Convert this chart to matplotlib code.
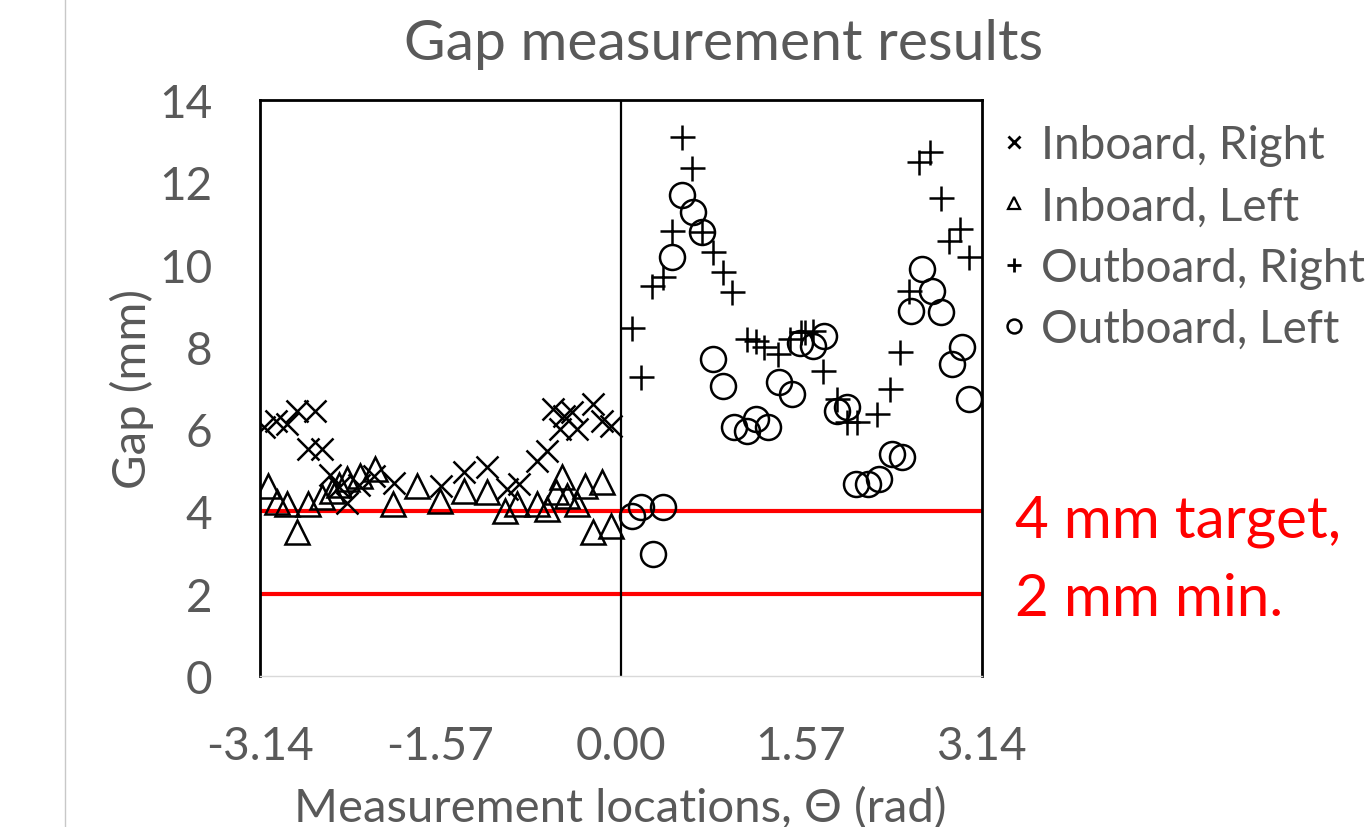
import matplotlib.pyplot as plt
from matplotlib.lines import Line2D

# gap data, theta in rad, gap in mm
in_right_theta = [-3.10, -3.00, -2.90, -2.82, -2.66, -2.72, -2.60, -2.53, -2.45, -2.38,
                  -2.28, -2.15, -1.97, -1.56, -1.36, -1.16, -0.99, -0.88, -0.73, -0.64,
                  -0.59, -0.53, -0.49, -0.42, -0.38, -0.24, -0.16, -0.08]
in_right_gap = [6.05, 6.20, 6.13, 6.44, 6.44, 5.52, 5.52, 4.88, 4.60, 4.20,
                4.65, 4.85, 4.70, 4.62, 4.96, 5.08, 4.55, 4.67, 5.23, 5.47,
                6.49, 6.00, 6.32, 6.42, 6.00, 6.61, 6.20, 6.08]

in_left_theta = [-3.07, -2.99, -2.90, -2.82, -2.72, -2.60, -2.51, -2.45, -2.38, -2.27,
                 -2.14, -1.98, -1.77, -1.57, -1.36, -1.16, -1.01, -0.90, -0.73, -0.64,
                 -0.56, -0.51, -0.47, -0.38, -0.31, -0.24, -0.16, -0.08]
in_left_gap = [4.62, 4.23, 4.18, 3.50, 4.18, 4.35, 4.50, 4.65, 4.79, 4.86,
               5.03, 4.18, 4.62, 4.25, 4.50, 4.47, 4.00, 4.18, 4.18, 4.06,
               4.47, 4.84, 4.38, 4.18, 4.62, 3.50, 4.72, 3.65]

out_right_theta = [0.10, 0.18, 0.27, 0.37, 0.45, 0.53, 0.62, 0.71, 0.80, 0.89,
                   0.97, 1.10, 1.18, 1.25, 1.37, 1.47, 1.57, 1.60, 1.67, 1.76,
                   1.88, 1.97, 2.06, 2.23, 2.34, 2.43, 2.51, 2.60, 2.69, 2.79,
                   2.86, 2.95, 3.03]
out_right_gap = [8.46, 7.27, 9.48, 9.70, 10.82, 13.10, 12.35, 10.79, 10.30, 9.82,
                 9.33, 8.19, 8.14, 8.00, 7.83, 8.19, 8.36, 8.36, 8.39, 7.41,
                 6.73, 6.17, 6.17, 6.37, 6.98, 7.88, 9.36, 12.49, 12.74, 11.62,
                 10.57, 10.87, 10.18]

out_left_theta = [0.10, 0.18, 0.28, 0.37, 0.45, 0.53, 0.63, 0.71, 0.80, 0.89,
                  0.99, 1.10, 1.18, 1.28, 1.38, 1.49, 1.56, 1.67, 1.77, 1.88,
                  1.97, 2.05, 2.15, 2.25, 2.36, 2.45, 2.53, 2.62, 2.71, 2.79,
                  2.88, 2.97, 3.03]
out_left_gap = [3.89, 4.10, 2.97, 4.10, 10.18, 11.70, 11.27, 10.79, 7.71, 7.05,
                6.05, 5.96, 6.25, 6.05, 7.15, 6.86, 8.10, 8.02, 8.26, 6.44,
                6.54, 4.67, 4.67, 4.79, 5.40, 5.32, 8.87, 9.89, 9.36, 8.85,
                7.58, 8.00, 6.73]

target_gap = 4
min_gap = 2
xticks = [-3.14, -1.57, 0.00, 1.57, 3.14]

grey = '#595959'
plt.rcParams['font.family'] = ['Lato', 'DejaVu Sans']

fig = plt.figure(figsize=(13.67, 8.28), dpi=100)
ax = fig.add_axes([0.190, 0.1824, 0.528, 0.6956])

ax.axhline(target_gap, color='red', lw=3, zorder=1)
ax.axhline(min_gap, color='red', lw=3, zorder=1)
ax.axvline(0, color='black', lw=1.6, zorder=1)

ms = 17
mew = 1.8
ax.plot(in_right_theta, in_right_gap, ls='none', marker='x', ms=ms - 1, mew=mew,
        color='black', label='Inboard, Right', zorder=3)
ax.plot(in_left_theta, in_left_gap, ls='none', marker='^', ms=ms, mew=mew,
        mfc='none', mec='black', label='Inboard, Left', zorder=3)
ax.plot(out_right_theta, out_right_gap, ls='none', marker='+', ms=ms + 1, mew=mew,
        color='black', label='Outboard, Right', zorder=3)
ax.plot(out_left_theta, out_left_gap, ls='none', marker='o', ms=ms + 1, mew=mew,
        mfc='none', mec='black', label='Outboard, Left', zorder=3)

ax.set_xlim(-3.14, 3.14)
ax.set_ylim(0, 14)
ax.set_xticks(xticks)
ax.set_xticklabels(['%.2f' % t for t in xticks])
ax.set_yticks(range(0, 15, 2))
ax.tick_params(length=0, labelsize=33, labelcolor=grey)
ax.tick_params(axis='y', pad=34)
ax.tick_params(axis='x', pad=35)

for side in ['left', 'top', 'right']:
    ax.spines[side].set_linewidth(2)
    ax.spines[side].set_color('black')
ax.spines['bottom'].set_color('#d9d9d9')
ax.spines['bottom'].set_linewidth(1)

fig.text(724 / 1367, 1 - 45 / 828, 'Gap measurement results', fontsize=41, color=grey,
         ha='center', va='center')
ax.set_ylabel('Gap (mm)', fontsize=34, color=grey, labelpad=4)
ax.set_xlabel('Measurement locations, Θ (rad)', fontsize=34, color=grey, labelpad=14)

handles = [Line2D([], [], ls='none', marker='x', ms=8, mew=2, color='black'),
           Line2D([], [], ls='none', marker='^', ms=9, mew=1.6, mfc='none', mec='black'),
           Line2D([], [], ls='none', marker='+', ms=10, mew=2, color='black'),
           Line2D([], [], ls='none', marker='o', ms=10, mew=1.8, mfc='none', mec='black')]
labels = ['Inboard, Right', 'Inboard, Left', 'Outboard, Right', 'Outboard, Left']
leg = ax.legend(handles, labels, loc='upper left', bbox_to_anchor=(1.0, 0.99),
                frameon=False, fontsize=33, handlelength=0.6, handletextpad=0.3,
                labelspacing=0.42, borderaxespad=0)
for t in leg.get_texts():
    t.set_color(grey)

fig.text(1015 / 1367, 1 - 522 / 828, '4 mm target,', color='red', fontsize=42, va='center')
fig.text(1015 / 1367, 1 - 600 / 828, '2 mm min.', color='red', fontsize=42, va='center')

# page edge on the left
fig.add_artist(Line2D([65 / 1367, 65 / 1367], [0, 1], color='#c8c8c8', lw=1))

fig.savefig('out.png', dpi=100)
